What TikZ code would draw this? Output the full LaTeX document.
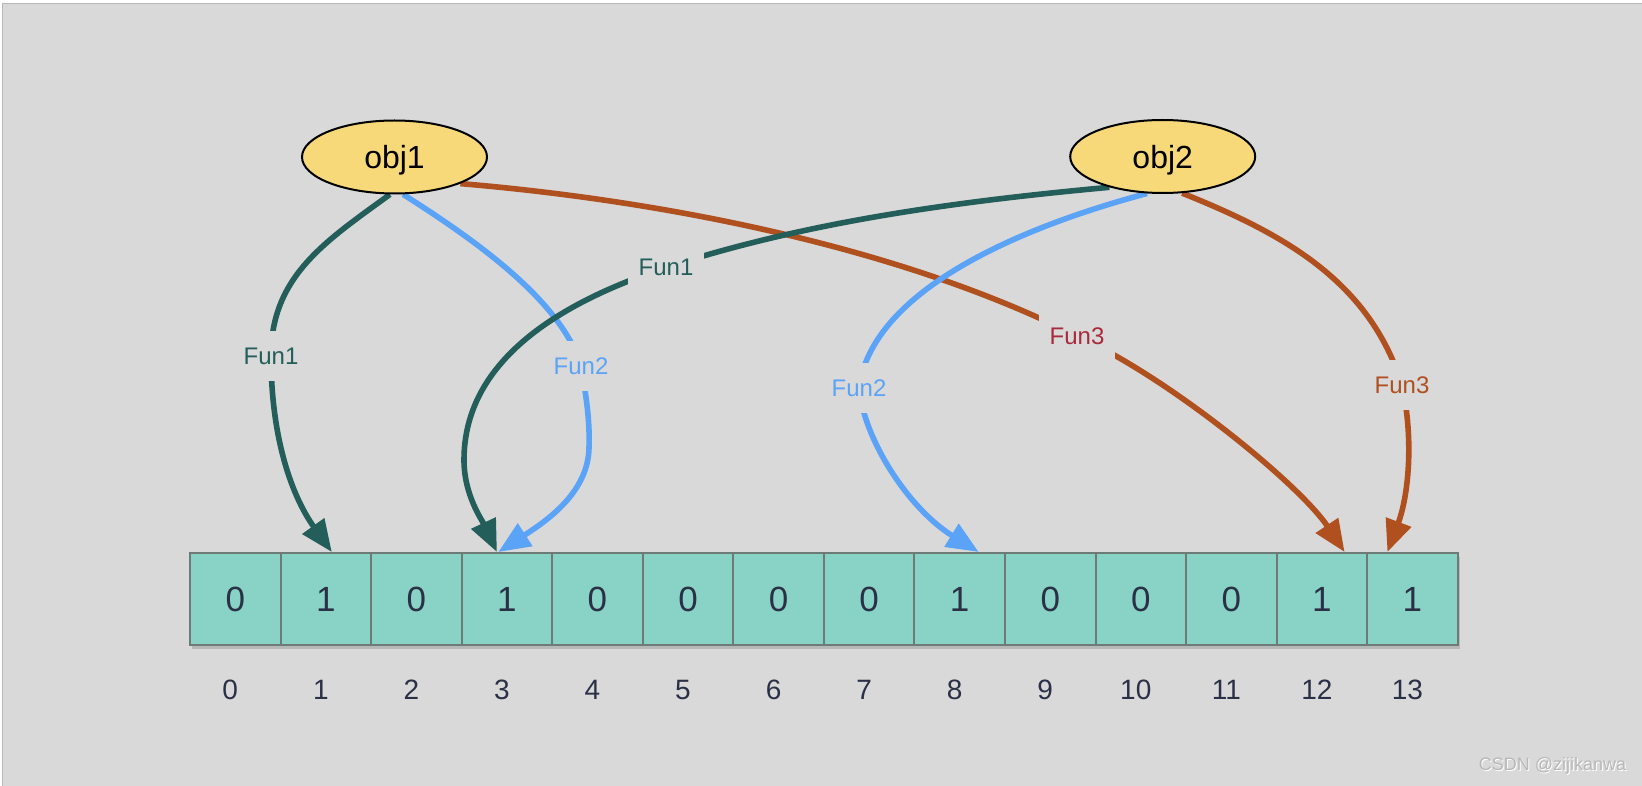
\documentclass[tikz,border=0pt]{standalone}
\usepackage{fontspec}
\setmainfont{Liberation Sans}
\usetikzlibrary{arrows.meta,shapes.geometric,calc}
\definecolor{bg}{HTML}{D9D9D9}
\definecolor{teal1}{HTML}{245E5A}
\definecolor{blue1}{HTML}{5BA3F6}
\definecolor{orng}{HTML}{B0501F}
\definecolor{red1}{HTML}{A82A3C}
\definecolor{yel}{HTML}{F8D97A}
\definecolor{cellc}{HTML}{88D3C5}
\definecolor{cellb}{HTML}{6E7A76}
\definecolor{ink}{HTML}{2A3046}
\pgfdeclarelayer{bgl}
\pgfdeclarelayer{lines}
\pgfsetlayers{bgl,lines,main}
\begin{document}
\begin{tikzpicture}[x=1pt,y=-1pt,
  bfline/.style={line width=5.6pt},
  bfarrow/.style={-{Triangle[length=32pt,width=26pt]}},
  bflbl/.style={fill=bg, inner xsep=11pt, inner ysep=17pt, font=\fontsize{24}{28}\selectfont},
  bfobj/.style={ellipse, draw=black, line width=2pt, fill=yel, minimum width=185pt, minimum height=73pt, inner sep=0pt, text depth=0pt, font=\fontsize{32}{36}\selectfont},
  bfcell/.style={draw=cellb, line width=2pt, fill=cellc, minimum width=90.55pt, minimum height=92pt, inner sep=0pt, text=ink, font=\fontsize{35}{40}\selectfont},
  bfidx/.style={text=ink, inner sep=0pt, font=\fontsize{28}{32}\selectfont}]
\useasboundingbox (0,0) rectangle (1642,786);
\begin{pgfonlayer}{bgl}
  \fill[white] (0,0) rectangle (1642,786);
  \fill[bg] (2.5,3.5) rectangle (1642,786);
  \draw[black!28, line width=1pt] (2.5,786) -- (2.5,3.5) -- (1642,3.5);
\end{pgfonlayer}

\node[bfobj] (obj1) at (394.5,157) {obj1};
\node[bfobj] (obj2) at (1162.7,156.5) {obj2};

\fill[black, opacity=0.15] (192,557) rectangle (1460,649);
\foreach \v [count=\i from 0] in {0,1,0,1,0,0,0,0,1,0,0,0,1,1} {
  \node[bfcell] (c\i) at ({190+(\i+0.5)*90.55},599) {\v};
  \node[bfidx] (i\i) at ({185+(\i+0.5)*90.55},690) {\i};
}

\begin{pgfonlayer}{lines}
  % obj1 -> 12 (Fun3)
  \draw[bfline, orng, bfarrow] (obj1.338) .. controls (655.7,200) and (896,245) .. (1077,336)
     node[bflbl, text=red1] (l5) {Fun3}
     .. controls (1170,378) and (1300,485) .. ([xshift=22.7pt]c12.north);
  % obj1 -> 3 (Fun2)
  \draw[bfline, blue1, bfarrow] (obj1.283) .. controls (470,237) and (561,299) .. (581,366)
     node[bflbl, text=blue1] (l2) {Fun2}
     .. controls (586,395) and (590,420) .. (589,448)
     .. controls (588,492) and (548,520) .. ([xshift=-8.6pt]c3.north);
  % obj2 -> 3 (Fun1)
  \draw[bfline, teal1, bfarrow] (obj2.210) .. controls (961,201) and (808.5,221) .. (666,267.5)
     node[bflbl, text=teal1] (l3) {Fun1}
     .. controls (561,302) and (464,360) .. (464,460)
     .. controls (464,495) and (482,520) .. ([xshift=-10pt]c3.north);
  % obj2 -> 8 (Fun2)
  \draw[bfline, blue1, bfarrow] (obj2.247) .. controls (1021,227) and (872,290) .. (859,388)
     node[bflbl, text=blue1] (l4) {Fun2}
     .. controls (864,440) and (909,509) .. ([xshift=19pt]c8.north);
  % obj1 -> 1 (Fun1)
  \draw[bfline, teal1, bfarrow] (obj1.263) .. controls (326,241) and (271,276) .. (271,356)
     node[bflbl, text=teal1] (l1) {Fun1}
     .. controls (271,436) and (291,495) .. ([xshift=6pt]c1.north);
  % obj2 -> 13 (Fun3)
  \draw[bfline, orng, bfarrow] (obj2.298) .. controls (1283,233.5) and (1369,280.5) .. (1402,385)
     node[bflbl, text=orng] (l6) {Fun3}
     .. controls (1414,440) and (1408.5,495.6) .. ([xshift=-25pt]c13.north);
\end{pgfonlayer}

\node[font=\fontsize{18}{20}\selectfont, text=white, inner sep=0pt] (wm2) at (1553.5,766.5) {CSDN @zijikanwa};
\node[font=\fontsize{18}{20}\selectfont, text=black!28, inner sep=0pt] (wm1) at (1552.5,765.5) {CSDN @zijikanwa};
\end{tikzpicture}
\end{document}
